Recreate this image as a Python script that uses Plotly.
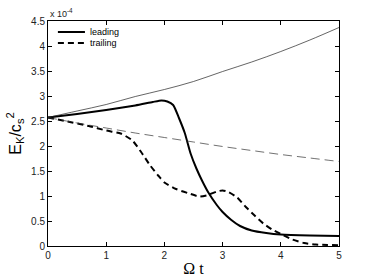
import plotly.graph_objects as go

# values in units of 1e-4
t_thin = [0, 0.5, 1, 1.5, 2, 2.5, 3, 3.5, 4, 4.5, 5]
thin_solid = [2.57, 2.70, 2.83, 2.99, 3.13, 3.29, 3.49, 3.68, 3.89, 4.12, 4.37]
thin_dashed = [2.57, 2.46, 2.36, 2.26, 2.17, 2.08, 1.99, 1.91, 1.83, 1.76, 1.69]

t_lead = [0, 0.5, 1, 1.5, 1.8, 1.95, 2.05, 2.15, 2.25, 2.35, 2.45, 2.55, 2.65, 2.75,
          2.9, 3.0, 3.15, 3.3, 3.5, 3.75, 4.0, 4.5, 5.0]
leading = [2.57, 2.64, 2.72, 2.81, 2.88, 2.91, 2.89, 2.82, 2.56, 2.26, 1.85, 1.55, 1.30, 1.08,
           0.82, 0.68, 0.52, 0.40, 0.31, 0.26, 0.23, 0.21, 0.20]

t_trail = [0, 0.3, 0.7, 1.0, 1.25, 1.45, 1.6, 1.75, 1.9, 2.0, 2.2, 2.4, 2.6, 2.75, 2.9,
           3.0, 3.1, 3.25, 3.4, 3.55, 3.7, 3.85, 4.0, 4.2, 4.4, 4.6, 4.8, 5.0]
trailing = [2.57, 2.50, 2.40, 2.31, 2.25, 2.11, 1.88, 1.62, 1.40, 1.27, 1.14, 1.06, 0.99, 1.02, 1.09,
            1.11, 1.08, 0.97, 0.78, 0.61, 0.45, 0.33, 0.24, 0.13, 0.06, 0.03, 0.02, 0.015]

x_ticks = [0, 1, 2, 3, 4, 5]
y_ticks = [0, 0.5, 1, 1.5, 2, 2.5, 3, 3.5, 4, 4.5]
y_tick_labels = ["0", "0.5", "1", "1.5", "2", "2.5", "3", "3.5", "4", "4.5"]

series_names = ["leading", "trailing"]

fig = go.Figure()
fig.add_trace(go.Scatter(x=t_lead, y=leading, mode="lines", name=series_names[0],
                         line=dict(color="black", width=2, shape="spline", smoothing=0.6)))
fig.add_trace(go.Scatter(x=t_trail, y=trailing, mode="lines", name=series_names[1],
                         line=dict(color="black", width=2, dash="6px,4px", shape="spline", smoothing=0.6)))
fig.add_trace(go.Scatter(x=t_thin, y=thin_solid, mode="lines", showlegend=False,
                         line=dict(color="#222", width=0.7, shape="spline")))
fig.add_trace(go.Scatter(x=t_thin, y=thin_dashed, mode="lines", showlegend=False,
                         line=dict(color="#333", width=0.7, dash="9px,5px", shape="spline")))

axis_common = dict(showline=True, linecolor="black", linewidth=1, mirror="ticks",
                   ticks="inside", ticklen=4, tickcolor="black", showgrid=False, zeroline=False,
                   automargin=False,
                   tickfont=dict(family="Liberation Sans, Arial", size=10, color="#222"))

# legend drawn manually (compact, MATLAB-like)
legend_shapes = []
legend_annots = []
for name, ypos, dash in [(series_names[0], 0.951, None), (series_names[1], 0.902, "6px,4px")]:
    line = dict(color="black", width=2)
    if dash:
        line["dash"] = dash
    legend_shapes.append(dict(type="line", xref="paper", yref="paper",
                              x0=0.034, x1=0.127, y0=ypos, y1=ypos, line=line))
    legend_annots.append(dict(text=name, x=0.137, y=ypos, xref="paper", yref="paper",
                              xanchor="left", yanchor="middle", showarrow=False,
                              font=dict(family="Liberation Sans, Arial", size=9, color="black")))

fig.update_layout(
    width=374, height=278,
    margin=dict(l=48, r=35, t=21, b=31.5),
    paper_bgcolor="white", plot_bgcolor="white",
    showlegend=False,
    xaxis=dict(range=[0, 5], tickvals=x_ticks, **axis_common,
               title=dict(text="Ω t", font=dict(family="Liberation Serif, Times New Roman", size=16, color="black"),
                          standoff=2)),
    yaxis=dict(range=[0, 4.5], tickvals=y_ticks, ticktext=y_tick_labels, **axis_common,
               title=dict(text="E<sub>K</sub>/c<sub>s</sub><sup>2</sup>",
                          font=dict(family="Liberation Sans, Arial", size=16, color="black"),
                          standoff=5)),
    shapes=legend_shapes,
    annotations=[dict(text="x 10<sup>-4</sup>", x=0, y=1, xref="paper", yref="paper",
                      xanchor="left", yanchor="bottom", showarrow=False, yshift=0,
                      font=dict(family="Liberation Sans, Arial", size=9, color="#222"))] + legend_annots,
)

fig.write_html("out.html", config={"displayModeBar": False},
               post_script="document.body.style.margin='0';document.body.style.overflow='hidden';")
